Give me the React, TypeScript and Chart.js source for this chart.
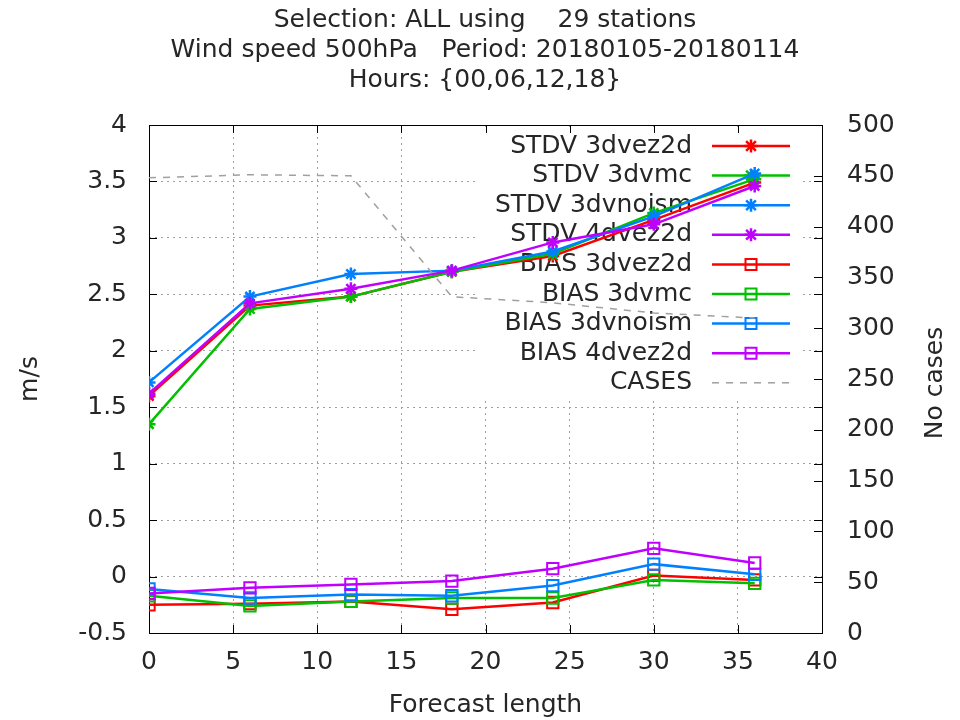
import React, { useEffect, useRef } from "react";
import { Chart, registerables } from "chart.js";

Chart.register(...registerables);

// ---- data ----
const forecastHours = [0, 6, 12, 18, 24, 30, 36];

const stdv3dvez2d = [1.6, 2.4, 2.48, 2.7, 2.84, 3.16, 3.49];
const stdv3dvmc = [1.35, 2.37, 2.48, 2.7, 2.86, 3.22, 3.52];
const stdv3dvnoism = [1.72, 2.48, 2.68, 2.71, 2.88, 3.19, 3.57];
const stdv4dvez2d = [1.62, 2.42, 2.55, 2.71, 2.96, 3.12, 3.46];

const bias3dvez2d = [-0.25, -0.24, -0.22, -0.29, -0.23, 0.01, -0.03];
const bias3dvmc = [-0.17, -0.26, -0.22, -0.19, -0.19, -0.03, -0.06];
const bias3dvnoism = [-0.11, -0.19, -0.16, -0.17, -0.08, 0.11, 0.02];
const bias4dvez2d = [-0.15, -0.1, -0.07, -0.04, 0.07, 0.25, 0.12];

const cases = [448, 451, 450, 331, 325, 315, 310];

const seriesLabels = [
  "STDV 3dvez2d",
  "STDV 3dvmc",
  "STDV 3dvnoism",
  "STDV 4dvez2d",
  "BIAS 3dvez2d",
  "BIAS 3dvmc",
  "BIAS 3dvnoism",
  "BIAS 4dvez2d",
  "CASES",
];

const titleLines = [
  "Selection: ALL using    29 stations",
  "Wind speed 500hPa   Period: 20180105-20180114",
  "Hours: {00,06,12,18}",
];
const xAxisTitle = "Forecast length";
const yAxisTitle = "m/s";
const y2AxisTitle = "No cases";

const xRange = { min: 0, max: 40, step: 5 };
const yRange = { min: -0.5, max: 4, step: 0.5 };
const y2Range = { min: 0, max: 500, step: 50 };

// ---- styles ----
const RED = "#ff0000";
const GREEN = "#00c000";
const BLUE = "#0080ff";
const MAGENTA = "#c000ff";
const GRAY = "#a0a0a0";
const TEXT = "#262626";
const FONT = "DejaVu Sans";
const FONT_SIZE = 25;

const pts = (vals: number[]) => forecastHours.map((x, i) => ({ x, y: vals[i] }));

function drawStar(ctx: CanvasRenderingContext2D, x: number, y: number, r: number) {
  ctx.beginPath();
  ctx.moveTo(x - r, y);
  ctx.lineTo(x + r, y);
  ctx.moveTo(x, y - r);
  ctx.lineTo(x, y + r);
  const d = r * 0.75;
  ctx.moveTo(x - d, y - d);
  ctx.lineTo(x + d, y + d);
  ctx.moveTo(x - d, y + d);
  ctx.lineTo(x + d, y - d);
  ctx.stroke();
}

function drawSquare(ctx: CanvasRenderingContext2D, x: number, y: number, s: number) {
  ctx.beginPath();
  ctx.rect(x - s, y - s, 2 * s, 2 * s);
  ctx.stroke();
}

const framePlugin = {
  id: "gnuplotFrame",
  beforeDatasetsDraw(chart: any) {
    const ctx: CanvasRenderingContext2D = chart.ctx;
    const { left, right, top, bottom } = chart.chartArea;
    const xs = chart.scales.x;
    const ys = chart.scales.y;
    const y2s = chart.scales.y2;

    // legend (opaque key box)
    const boxL = 476, boxR = 800, boxT = top + 5, boxB = 398;
    ctx.save();
    ctx.fillStyle = "#ffffff";
    ctx.fillRect(boxL, boxT, boxR - boxL, boxB - boxT);
    ctx.restore();

    // border
    ctx.save();
    ctx.strokeStyle = "#000000";
    ctx.lineWidth = 1;
    ctx.strokeRect(Math.round(left) + 0.5, Math.round(top) + 0.5, Math.round(right - left), Math.round(bottom - top));

    // inside tick marks
    const tl = 8;
    ctx.beginPath();
    xs.ticks.forEach((t: any) => {
      const px = Math.round(xs.getPixelForValue(t.value)) + 0.5;
      ctx.moveTo(px, bottom);
      ctx.lineTo(px, bottom - tl);
      ctx.moveTo(px, top);
      ctx.lineTo(px, top + tl);
    });
    ys.ticks.forEach((t: any) => {
      const py = Math.round(ys.getPixelForValue(t.value)) + 0.5;
      ctx.moveTo(left, py);
      ctx.lineTo(left + tl, py);
      ctx.moveTo(right, py);
      ctx.lineTo(right - tl, py);
    });
    y2s.ticks.forEach((t: any) => {
      const py = Math.round(y2s.getPixelForValue(t.value)) + 0.5;
      ctx.moveTo(right, py);
      ctx.lineTo(right - tl, py);
    });
    ctx.stroke();
    ctx.restore();

    // legend entries
    const textRight = 692;
    const sx0 = 712, sx1 = 790, mx = 751;
    const rowY0 = 146, rowStep = 29.6;
    ctx.save();
    ctx.font = `${FONT_SIZE}px "${FONT}"`;
    ctx.textAlign = "right";
    ctx.textBaseline = "middle";
    chart.data.datasets.forEach((ds: any, i: number) => {
      const y = rowY0 + i * rowStep;
      ctx.fillStyle = TEXT;
      ctx.fillText(ds.label, textRight, y);
      ctx.strokeStyle = ds.borderColor;
      ctx.lineWidth = ds.borderWidth;
      ctx.setLineDash(ds.borderDash || []);
      ctx.beginPath();
      ctx.moveTo(sx0, y);
      ctx.lineTo(sx1, y);
      ctx.stroke();
      ctx.setLineDash([]);
      if (ds.pointStyle === "star") {
        ctx.lineWidth = 2.5;
        drawStar(ctx, mx, y, 6.5);
      } else if (ds.pointStyle === "rect" && ds.pointRadius > 0) {
        ctx.lineWidth = 2;
        drawSquare(ctx, mx, y, 5.5);
      }
    });
    ctx.restore();
  },
  afterDraw(chart: any) {
    const ctx: CanvasRenderingContext2D = chart.ctx;
    const { left, right, top, bottom } = chart.chartArea;
    const cx = 485;
    ctx.save();
    ctx.fillStyle = TEXT;
    ctx.font = `${FONT_SIZE}px "${FONT}"`;
    ctx.textAlign = "center";
    ctx.textBaseline = "middle";
    titleLines.forEach((line, i) => ctx.fillText(line, cx, 20 + i * 30));
    ctx.fillText(xAxisTitle, (left + right) / 2, 705);
    const cy = (top + bottom) / 2;
    ctx.save();
    ctx.translate(30, cy);
    ctx.rotate(-Math.PI / 2);
    ctx.fillText(yAxisTitle, 0, 0);
    ctx.restore();
    ctx.save();
    ctx.translate(935, cy + 4);
    ctx.rotate(-Math.PI / 2);
    ctx.fillText(y2AxisTitle, 0, 0);
    ctx.restore();
    ctx.restore();
  },
};

const fmt = (v: number | string) => String(Number(Number(v).toFixed(3)));

export default function App() {
  const ref = useRef<HTMLCanvasElement | null>(null);

  useEffect(() => {
    if (!ref.current) return;
    const tickFont = { family: FONT, size: FONT_SIZE };
    const stdv = (label: string, vals: number[], color: string, order: number) => ({
      label,
      data: pts(vals),
      borderColor: color,
      backgroundColor: color,
      borderWidth: 2.5,
      pointStyle: "star",
      pointRadius: 6.5,
      pointBorderWidth: 2.5,
      pointBorderColor: color,
      yAxisID: "y",
      order,
    });
    const bias = (label: string, vals: number[], color: string, order: number) => ({
      label,
      data: pts(vals),
      borderColor: color,
      backgroundColor: "rgba(0,0,0,0)",
      borderWidth: 2.5,
      pointStyle: "rect",
      pointRadius: 8,
      pointBorderWidth: 2,
      pointBorderColor: color,
      pointBackgroundColor: "rgba(0,0,0,0)",
      yAxisID: "y",
      order,
    });
    const chart = new Chart(ref.current, {
      type: "line",
      data: {
        datasets: [
          stdv(seriesLabels[0], stdv3dvez2d, RED, 20),
          stdv(seriesLabels[1], stdv3dvmc, GREEN, 19),
          stdv(seriesLabels[2], stdv3dvnoism, BLUE, 18),
          stdv(seriesLabels[3], stdv4dvez2d, MAGENTA, 17),
          bias(seriesLabels[4], bias3dvez2d, RED, 16),
          bias(seriesLabels[5], bias3dvmc, GREEN, 15),
          bias(seriesLabels[6], bias3dvnoism, BLUE, 14),
          bias(seriesLabels[7], bias4dvez2d, MAGENTA, 13),
          {
            label: seriesLabels[8],
            data: pts(cases),
            borderColor: GRAY,
            backgroundColor: GRAY,
            borderWidth: 1.5,
            borderDash: [7, 7],
            pointRadius: 0,
            yAxisID: "y2",
            order: 12,
          } as any,
        ] as any,
      },
      options: {
        animation: false,
        responsive: false,
        devicePixelRatio: 1,
        layout: { padding: { top: 125, left: 0, right: 0, bottom: 0 } },
        plugins: {
          legend: { display: false },
          tooltip: { enabled: false },
          title: { display: false },
        },
        elements: { line: { tension: 0 } },
        scales: {
          x: {
            type: "linear",
            position: "bottom",
            min: xRange.min,
            max: xRange.max,
            ticks: { stepSize: xRange.step, font: tickFont, color: TEXT, padding: 14, callback: (v: any) => fmt(v), maxRotation: 0 },
            grid: { color: GRAY, lineWidth: 1, drawTicks: false },
            border: { display: false, dash: [2, 4] },
            afterFit: (s: any) => {
              s.height = 87;
            },
          },
          y: {
            type: "linear",
            position: "left",
            min: yRange.min,
            max: yRange.max,
            ticks: { stepSize: yRange.step, font: tickFont, color: TEXT, padding: 22, callback: (v: any) => fmt(v) },
            grid: { color: GRAY, lineWidth: 1, drawTicks: false },
            border: { display: false, dash: [2, 4] },
            afterFit: (s: any) => {
              s.width = 149;
            },
          },
          y2: {
            type: "linear",
            position: "right",
            min: y2Range.min,
            max: y2Range.max,
            ticks: { stepSize: y2Range.step, font: tickFont, color: TEXT, padding: 25, callback: (v: any) => fmt(v) },
            grid: { display: false, drawTicks: false },
            border: { display: false },
            afterFit: (s: any) => {
              s.width = 138;
            },
          },
        },
      } as any,
      plugins: [framePlugin],
    });
    return () => chart.destroy();
  }, []);

  return (
    <div style={{ position: "fixed", left: 0, top: 0, width: 960, height: 720, background: "#ffffff" }}>
      <canvas ref={ref} width={960} height={720} style={{ display: "block", width: 960, height: 720 }} />
    </div>
  );
}
